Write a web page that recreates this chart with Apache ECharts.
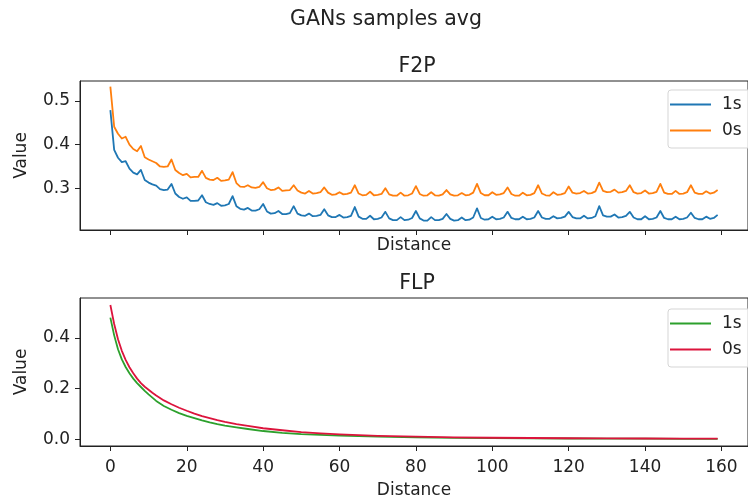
<!DOCTYPE html>
<html>
<head>
<meta charset="utf-8">
<script src="https://cdn.jsdelivr.net/npm/echarts@6/dist/echarts.min.js"></script>
<style>
html,body{margin:0;padding:0;background:#fff;}
#chart{width:748px;height:500px;}
</style>
</head>
<body>
<div id="chart"></div>
<script>
// ---- data ----
const distance = [0,1,2,3,4,5,6,7,8,9,10,11,12,13,14,15,16,17,18,19,20,21,22,23,24,25,26,27,28,29,30,31,32,33,34,35,36,37,38,39,40,41,42,43,44,45,46,47,48,49,50,51,52,53,54,55,56,57,58,59,60,61,62,63,64,65,66,67,68,69,70,71,72,73,74,75,76,77,78,79,80,81,82,83,84,85,86,87,88,89,90,91,92,93,94,95,96,97,98,99,100,101,102,103,104,105,106,107,108,109,110,111,112,113,114,115,116,117,118,119,120,121,122,123,124,125,126,127,128,129,130,131,132,133,134,135,136,137,138,139,140,141,142,143,144,145,146,147,148,149,150,151,152,153,154,155,156,157,158,159];

const f2p1s = [0.479,0.388,0.370,0.360,0.362,0.345,0.336,0.332,0.342,0.319,
0.313,0.309,0.306,0.298,0.296,0.297,0.310,0.288,0.280,0.276,
0.279,0.271,0.271,0.272,0.284,0.268,0.264,0.262,0.266,0.260,
0.261,0.264,0.282,0.259,0.253,0.251,0.255,0.249,0.249,0.252,
0.264,0.247,0.242,0.243,0.248,0.241,0.241,0.243,0.259,0.242,
0.238,0.237,0.242,0.236,0.237,0.239,0.252,0.238,0.234,0.234,
0.239,0.233,0.234,0.237,0.257,0.235,0.230,0.230,0.237,0.229,
0.230,0.233,0.246,0.231,0.227,0.227,0.234,0.227,0.228,0.232,
0.248,0.231,0.226,0.226,0.234,0.227,0.227,0.230,0.241,0.230,
0.226,0.227,0.233,0.227,0.228,0.233,0.254,0.232,0.228,0.229,
0.235,0.229,0.230,0.233,0.246,0.232,0.229,0.229,0.235,0.229,
0.230,0.233,0.248,0.233,0.230,0.230,0.236,0.231,0.232,0.235,
0.246,0.234,0.231,0.231,0.237,0.231,0.232,0.236,0.259,0.238,
0.235,0.235,0.240,0.233,0.234,0.237,0.246,0.233,0.229,0.229,
0.236,0.229,0.230,0.233,0.248,0.232,0.229,0.229,0.235,0.229,
0.230,0.233,0.244,0.232,0.229,0.229,0.235,0.230,0.232,0.239];

const f2p0s = [0.533,0.441,0.425,0.414,0.418,0.400,0.390,0.385,0.397,0.371,
0.366,0.362,0.358,0.350,0.349,0.350,0.366,0.342,0.335,0.330,
0.333,0.325,0.326,0.326,0.340,0.324,0.320,0.319,0.324,0.317,
0.318,0.320,0.337,0.312,0.304,0.303,0.307,0.302,0.301,0.303,
0.314,0.300,0.296,0.297,0.302,0.294,0.295,0.296,0.307,0.295,
0.290,0.288,0.294,0.288,0.289,0.291,0.302,0.290,0.285,0.286,
0.291,0.286,0.287,0.290,0.307,0.288,0.284,0.285,0.292,0.284,
0.285,0.287,0.300,0.286,0.283,0.283,0.290,0.283,0.284,0.288,
0.305,0.287,0.283,0.284,0.291,0.284,0.283,0.286,0.296,0.286,
0.283,0.284,0.289,0.284,0.285,0.290,0.310,0.289,0.284,0.284,
0.291,0.285,0.286,0.289,0.302,0.287,0.283,0.283,0.290,0.284,
0.285,0.289,0.307,0.288,0.284,0.283,0.291,0.285,0.286,0.289,
0.304,0.290,0.288,0.289,0.294,0.288,0.289,0.293,0.313,0.294,
0.291,0.292,0.297,0.290,0.291,0.294,0.307,0.291,0.288,0.289,
0.295,0.288,0.289,0.292,0.310,0.290,0.287,0.287,0.294,0.287,
0.288,0.291,0.307,0.290,0.287,0.287,0.293,0.288,0.290,0.296];

const flpDistance = [0,1,2,3,4,5,6,7,8,9,10,11,12,14,16,18,20,22,24,26,28,30,33,36,40,45,50,55,60,70,80,90,100,110,120,130,140,150,159];
const flp1s = [0.480,0.410,0.355,0.315,0.285,0.260,0.239,0.221,0.206,0.191,0.177,0.164,0.151,0.131,0.116,0.103,0.092,0.083,0.074,0.066,0.059,0.053,0.046,0.040,0.032,0.025,0.020,0.017,0.014,0.0095,0.0068,0.005,0.0038,0.003,0.0024,0.002,0.0016,0.0013,0.0011];
const flp0s = [0.530,0.455,0.395,0.349,0.313,0.284,0.260,0.239,0.221,0.207,0.195,0.183,0.172,0.153,0.138,0.124,0.112,0.101,0.091,0.083,0.075,0.068,0.059,0.052,0.043,0.035,0.028,0.023,0.019,0.013,0.0095,0.007,0.0055,0.0045,0.0035,0.003,0.0025,0.002,0.002];

const xTicks = [0,20,40,60,80,100,120,140,160];
const f2pTicks = [0.3,0.4,0.5];
const flpTicks = [0.0,0.2,0.4];
const seriesNames = ['1s','0s'];

// ---- chart ----
const FONT = 'DejaVu Sans';
const INK = '#222';
const LABEL_SIZE = 17;
const TITLE_SIZE = 20.5;
const pairs = (xs, ys) => xs.map((x, i) => [x, ys[i]]);

function xAxisCfg(grid, showLabels, gap) {
  return {
    type: 'value', gridIndex: grid, min: -7.95, max: 166.95,
    name: 'Distance', nameLocation: 'middle', nameGap: gap,
    nameTextStyle: {fontFamily: FONT, fontSize: LABEL_SIZE, color: INK},
    axisLine: {show: true, onZero: false, lineStyle: {color: INK, width: 1}},
    axisTick: {show: true, length: 5, customValues: xTicks, lineStyle: {color: INK}},
    axisLabel: {show: showLabels, customValues: xTicks, margin: 13, fontFamily: FONT, fontSize: LABEL_SIZE, color: INK},
    splitLine: {show: false}
  };
}
function yAxisCfg(grid, min, max, ticks) {
  return {
    type: 'value', gridIndex: grid, min: min, max: max,
    name: 'Value', nameLocation: 'middle', nameGap: 50,
    nameTextStyle: {fontFamily: FONT, fontSize: LABEL_SIZE, color: INK},
    axisLine: {show: true, onZero: false, lineStyle: {color: INK, width: 1}},
    axisTick: {show: true, length: 5, customValues: ticks, lineStyle: {color: INK}},
    axisLabel: {customValues: ticks, margin: 10, fontFamily: FONT, fontSize: LABEL_SIZE, color: INK,
      formatter: v => Number(v).toFixed(1)},
    splitLine: {show: false}
  };
}
function legendCfg(top, c1, c0) {
  return {
    orient: 'vertical', left: 668, top: top,
    icon: 'rect', itemWidth: 41, itemHeight: 2, itemGap: 9,
    padding: [6, 20, 9, 2],
    backgroundColor: 'rgba(255,255,255,0.8)', borderColor: '#d5d5d5', borderWidth: 1, borderRadius: 3,
    textStyle: {fontFamily: FONT, fontSize: LABEL_SIZE, color: INK, padding: [0, 0, 0, 6]},
    data: [{name: seriesNames[0], itemStyle: {color: c1}}, {name: seriesNames[1], itemStyle: {color: c0}}],
    selectedMode: false
  };
}
function lineSeries(name, xi, data, color) {
  return {
    type: 'line', name: name, xAxisIndex: xi, yAxisIndex: xi, data: data,
    showSymbol: false, symbol: 'none',
    lineStyle: {color: color, width: 1.8, join: 'round'}, itemStyle: {color: color}
  };
}

const chart = echarts.init(document.getElementById('chart'), null, {renderer: 'canvas'});
chart.setOption({
  animation: false,
  backgroundColor: '#fff',
  title: [
    {text: 'GANs samples avg', left: 381, top: 4, textAlign: 'center',
      textStyle: {fontFamily: FONT, fontSize: TITLE_SIZE, fontWeight: 'normal', color: INK}},
    {text: 'F2P', left: 412, top: 51, textAlign: 'center',
      textStyle: {fontFamily: FONT, fontSize: TITLE_SIZE, fontWeight: 'normal', color: INK}},
    {text: 'FLP', left: 412, top: 268, textAlign: 'center',
      textStyle: {fontFamily: FONT, fontSize: TITLE_SIZE, fontWeight: 'normal', color: INK}}
  ],
  grid: [
    {left: 80, top: 81, width: 679, height: 149, show: true, borderColor: INK, borderWidth: 1, backgroundColor: 'transparent'},
    {left: 80, top: 298, width: 679, height: 150, show: true, borderColor: INK, borderWidth: 1, backgroundColor: 'transparent'}
  ],
  xAxis: [xAxisCfg(0, false, 7), xAxisCfg(1, true, 36)],
  yAxis: [yAxisCfg(0, 0.2044, 0.5459, f2pTicks), yAxisCfg(1, -0.0272, 0.5577, flpTicks)],
  legend: [legendCfg(90, '#1f77b4', '#ff7f0e'), legendCfg(309, '#2ca02c', '#dc143c')],
  series: [
    lineSeries(seriesNames[0], 0, pairs(distance, f2p1s), '#1f77b4'),
    lineSeries(seriesNames[1], 0, pairs(distance, f2p0s), '#ff7f0e'),
    lineSeries(seriesNames[0], 1, pairs(flpDistance, flp1s), '#2ca02c'),
    lineSeries(seriesNames[1], 1, pairs(flpDistance, flp0s), '#dc143c')
  ]
});
</script>
</body>
</html>
